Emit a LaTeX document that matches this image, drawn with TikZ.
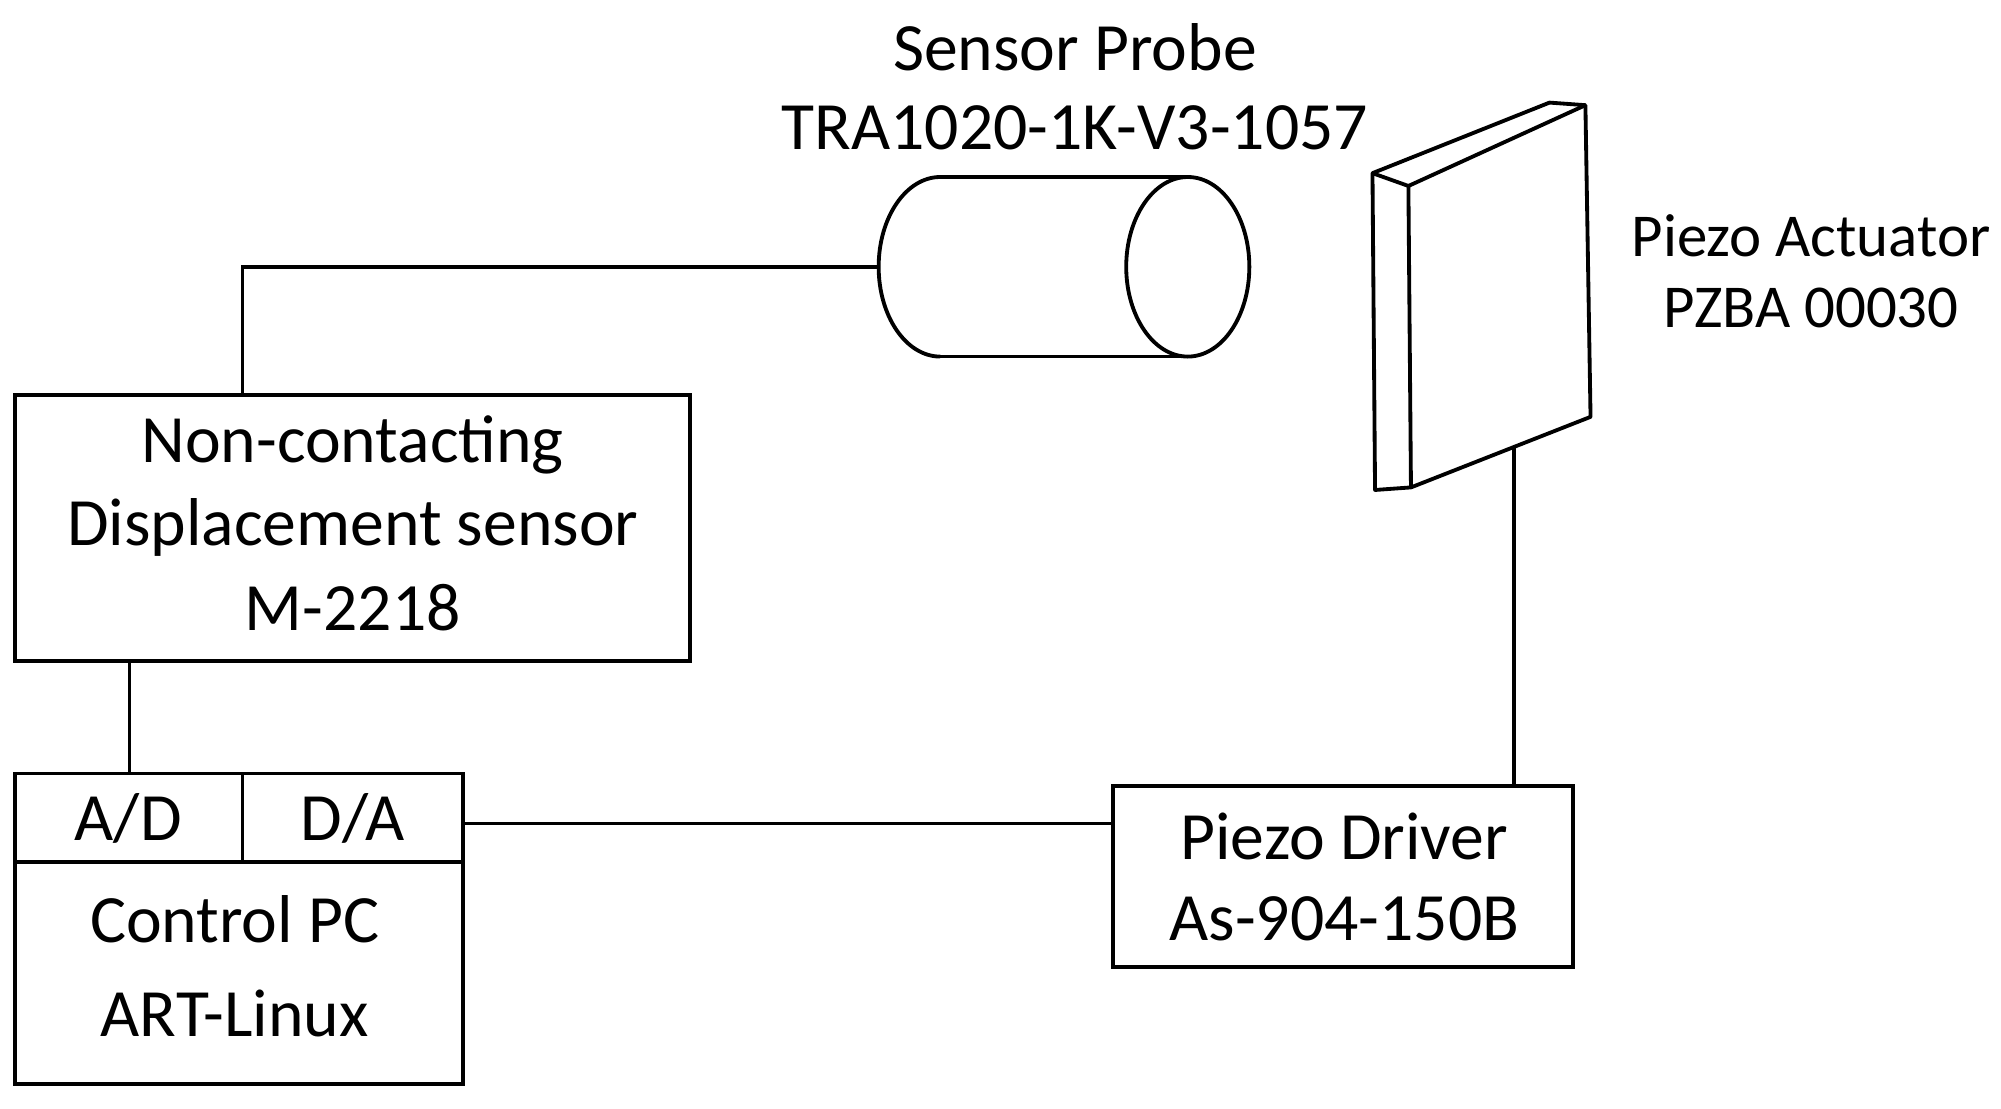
\documentclass[tikz,border=0pt]{standalone}
\usepackage{fontspec}
\setmainfont{Carlito}
\begin{document}
\begin{tikzpicture}[x=0.01cm,y=-0.01cm,line width=0.85pt,
  lbl/.style={font=\fontsize{15}{18}\selectfont,inner sep=0pt},
  slbl/.style={font=\fontsize{13.5}{16}\selectfont,inner sep=0pt}]
\useasboundingbox (0,0) rectangle (1560,864);
% boxes
\draw (12,308) rectangle (538,515);
\node[lbl] (s1) at (275,347) {Non-contacting};
\node[lbl] (s2) at (275,411) {Displacement sensor};
\node[lbl] (s3) at (275,474) {M-2218};
\coordinate (sensTop) at (189,308);
\coordinate (sensBot) at (101,515);
\draw (12,603) rectangle (361,845);
\draw (12,672) -- (361,672);
\draw (189,603) -- (189,672);
\node[lbl] (ad) at (100,638) {A/D};
\node[lbl] (da) at (275,638) {D/A};
\node[lbl] (pc1) at (183,717) {Control PC};
\node[lbl] (pc2) at (183,790) {ART-Linux};
\coordinate (pcTop) at (101,603);
\coordinate (daR) at (361,642);
\draw (868,613) rectangle (1226,754);
\node[lbl] (pd1) at (1048,652) {Piezo Driver};
\node[lbl] (pd2) at (1048,716) {As-904-150B};
\coordinate (pdL) at (868,642);
\coordinate (pdT) at (1180,613);
% cylinder
\draw (733,138) -- (926,138);
\draw (733,278) -- (926,278);
\draw (733,138) arc[start angle=90,end angle=270,x radius=48,y radius=-70];
\draw (926,208) ellipse[x radius=48,y radius=70];
\coordinate (cylL) at (685,208);
% plate
\draw[line join=round] (1070,135) -- (1208,80) -- (1236,82) -- (1240,325) -- (1100,380) -- (1072,382) -- cycle;
\draw (1098,145) -- (1236,82);
\draw (1098,145) -- (1100,380);
\draw (1070,135) -- (1098,145);
\coordinate (plB) at (1180,348);
% connectors
\draw (sensTop) -- (189,208) -- (cylL);
\draw (sensBot) -- (pcTop);
\draw (daR) -- (pdL);
\draw (plB) -- (pdT);
% labels
\node[lbl] (sp1) at (838,37) {Sensor Probe};
\node[lbl] (sp2) at (838,100) {TRA1020-1K-V3-1057};
\node[slbl] (pa1) at (1412,184) {Piezo Actuator};
\node[slbl] (pa2) at (1412,240) {PZBA 00030};
\end{tikzpicture}
\end{document}
